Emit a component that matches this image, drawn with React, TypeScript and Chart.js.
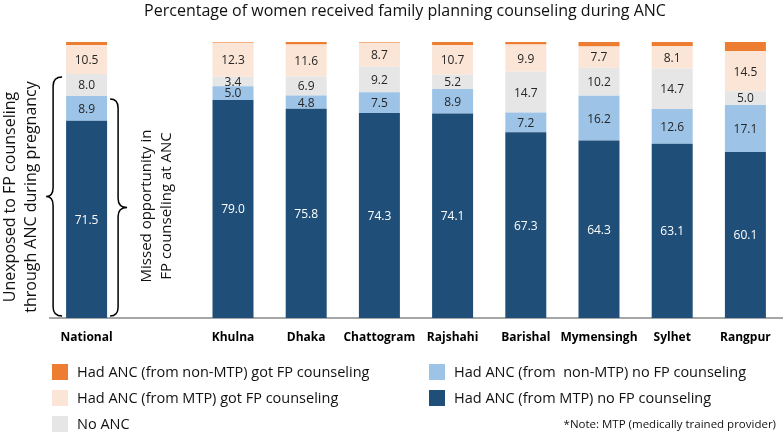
import React, { useEffect, useRef } from "react";
import { Chart, registerables } from "chart.js";
Chart.register(...registerables);

const TITLE = "Percentage of women received family planning counseling during ANC";
const categories = ["National", "", "Khulna", "Dhaka", "Chattogram", "Rajshahi", "Barishal", "Mymensingh", "Sylhet", "Rangpur"];
const mtpNoFP = [71.5, null, 79.0, 75.8, 74.3, 74.1, 67.3, 64.3, 63.1, 60.1];
const nonMtpNoFP = [8.9, null, 5.0, 4.8, 7.5, 8.9, 7.2, 16.2, 12.6, 17.1];
const noANC = [8.0, null, 3.4, 6.9, 9.2, 5.2, 14.7, 10.2, 14.7, 5.0];
const mtpGotFP = [10.5, null, 12.3, 11.6, 8.7, 10.7, 9.9, 7.7, 8.1, 14.5];
const nonMtpGotFP = [1.1, null, 0.3, 0.9, 0.3, 1.1, 0.9, 1.6, 1.5, 3.3];

const seriesLabels = [
  "Had ANC (from MTP) no FP counseling",
  "Had ANC (from  non-MTP) no FP counseling",
  "No ANC",
  "Had ANC (from MTP) got FP counseling",
  "Had ANC (from non-MTP) got FP counseling",
];
const seriesColors = ["#1f4e79", "#9dc3e6", "#e7e6e6", "#fbe5d6", "#ed7d31"];
const leftNote = ["Unexposed to FP counseling", "through ANC during pregnancy"];
const midNote = ["Missed opportunity in", "FP counseling at ANC"];
const footNote = "*Note: MTP (medically trained provider)";

const FONT = "'Open Sans', 'Noto Sans', sans-serif";

function drawBrace(ctx: CanvasRenderingContext2D, x: number, yTop: number, yBot: number, hook: number, tip: number) {
  const ym = (yTop + yBot) / 2;
  const r = 9;
  ctx.beginPath();
  ctx.moveTo(x + hook, yTop);
  ctx.quadraticCurveTo(x, yTop, x, yTop + r);
  ctx.lineTo(x, ym - r);
  ctx.quadraticCurveTo(x, ym, x + tip, ym);
  ctx.quadraticCurveTo(x, ym, x, ym + r);
  ctx.lineTo(x, yBot - r);
  ctx.quadraticCurveTo(x, yBot, x + hook, yBot);
  ctx.stroke();
}

const extras = {
  id: "extras",
  afterDatasetsDraw(chart: any) {
    const ctx: CanvasRenderingContext2D = chart.ctx;
    ctx.save();
    // data labels
    ctx.textAlign = "center";
    ctx.textBaseline = "middle";
    ctx.font = `12px ${FONT}`;
    for (let d = 0; d < 4; d++) {
      const meta = chart.getDatasetMeta(d);
      meta.data.forEach((el: any, i: number) => {
        const v = chart.data.datasets[d].data[i];
        if (v == null) return;
        ctx.fillStyle = d === 0 ? "#ffffff" : "#262626";
        ctx.fillText(v.toFixed(1), el.x, (el.y + el.base) / 2 + 1);
      });
    }
    // braces around National
    const y = chart.scales.y;
    const bar = chart.getDatasetMeta(0).data[0];
    const left = bar.x - bar.width / 2;
    const right = bar.x + bar.width / 2;
    const base = y.getPixelForValue(0) - 2;
    const unexposedTop = y.getPixelForValue(mtpNoFP[0]! + nonMtpNoFP[0]! + noANC[0]!) + 3;
    const missedTop = y.getPixelForValue(mtpNoFP[0]! + nonMtpNoFP[0]!) + 3;
    ctx.strokeStyle = "#000";
    ctx.lineWidth = 1.5;
    drawBrace(ctx, left - 13, unexposedTop, base, 9, -7);
    drawBrace(ctx, right + 11, missedTop, base, -8, 9);
    // rotated notes
    ctx.fillStyle = "#111";
    ctx.font = `16px ${FONT}`;
    const rot = (lines: string[], xs: number[], cy: number) => {
      lines.forEach((t, i) => {
        ctx.save();
        ctx.translate(xs[i], cy);
        ctx.rotate(-Math.PI / 2);
        ctx.fillText(t, 0, 0);
        ctx.restore();
      });
    };
    rot(leftNote, [10, 31], 197);
    ctx.font = `15px ${FONT}`;
    rot(midNote, [147, 167], 206);
    ctx.restore();
  },
  afterDraw(chart: any) {
    const ctx: CanvasRenderingContext2D = chart.ctx;
    ctx.save();
    ctx.textBaseline = "middle";
    // title
    ctx.textAlign = "center";
    ctx.fillStyle = "#111";
    ctx.font = `16px ${FONT}`;
    ctx.fillText(TITLE, 405, 11);
    // legend
    const items = [
      { i: 4, x: 52, y: 372 },
      { i: 3, x: 52, y: 398 },
      { i: 2, x: 52, y: 424 },
      { i: 1, x: 429, y: 372 },
      { i: 0, x: 429, y: 398 },
    ];
    ctx.textAlign = "left";
    ctx.font = `14.5px ${FONT}`;
    items.forEach((it) => {
      const ds = chart.data.datasets[it.i];
      ctx.fillStyle = ds.backgroundColor;
      ctx.fillRect(it.x, it.y - 8, 16, 16);
      ctx.fillStyle = "#111";
      ctx.fillText(ds.label, it.x + 25, it.y + 1);
    });
    // footnote
    ctx.textAlign = "right";
    ctx.font = `11.5px ${FONT}`;
    ctx.fillText(footNote, 776, 425);
    ctx.restore();
  },
};

export default function App() {
  const ref = useRef<HTMLCanvasElement>(null);
  useEffect(() => {
    document.body.style.margin = "0";
    const data = [mtpNoFP, nonMtpNoFP, noANC, mtpGotFP, nonMtpGotFP];
    const chart = new Chart(ref.current!, {
      type: "bar",
      data: {
        labels: categories,
        datasets: data.map((d, i) => ({
          label: seriesLabels[i],
          data: d,
          backgroundColor: seriesColors[i],
          borderWidth: 0,
          categoryPercentage: 1,
          barPercentage: 0.56,
        })),
      },
      options: {
        responsive: false,
        animation: false,
        layout: { padding: { top: 42, left: 50, right: 1, bottom: 0 } },
        plugins: { legend: { display: false }, tooltip: { enabled: false }, title: { display: false } },
        scales: {
          x: {
            stacked: true,
            grid: { display: false, drawTicks: false },
            border: { display: true, color: "#a6a6a6", width: 2 },
            ticks: { color: "#000", font: { family: FONT, size: 12, weight: "bold" }, padding: 12, maxRotation: 0, autoSkip: false },
            afterFit: (s: any) => { s.height = 121; },
          },
          y: { stacked: true, display: false, min: 0, max: 100 },
        },
      },
      plugins: [extras],
    } as any);
    return () => chart.destroy();
  }, []);
  return (
    <div style={{ width: 783, height: 439 }}>
      <canvas ref={ref} width={783} height={439} />
    </div>
  );
}
